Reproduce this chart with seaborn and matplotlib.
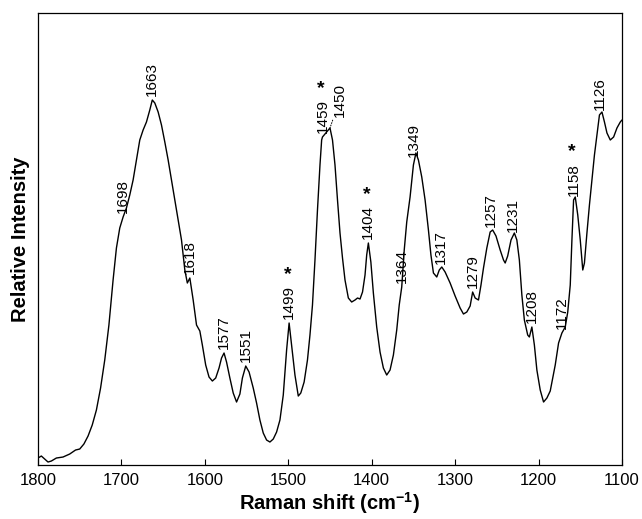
import numpy as np
import pandas as pd
import matplotlib
matplotlib.use("Agg")
import matplotlib.pyplot as plt
import seaborn as sns

# spectrum (wavenumber in cm-1, relative intensity in arbitrary units)
shift = [1800, 1796, 1792, 1788, 1784, 1778, 1770, 1762, 1755, 1750, 1745, 1740, 1735, 1730,
         1725, 1720, 1715, 1710, 1706, 1702, 1698, 1694, 1690, 1686, 1682, 1678, 1674, 1670,
         1666, 1663, 1660, 1656, 1652, 1648, 1644, 1640, 1636, 1632, 1628, 1624, 1621, 1618,
         1614, 1610, 1606, 1603, 1599, 1595, 1591, 1587, 1583, 1580, 1577, 1574, 1570, 1566,
         1562, 1558, 1555, 1551, 1547, 1542, 1538, 1534, 1530, 1526, 1522, 1518, 1514, 1510,
         1506, 1502, 1499, 1496, 1492, 1488, 1485, 1481, 1477, 1474, 1471, 1468, 1465, 1462,
         1460, 1459, 1456, 1453, 1450, 1447, 1444, 1441, 1438, 1435, 1432, 1428, 1424, 1420,
         1417, 1414, 1411, 1408, 1406, 1404, 1401, 1398, 1394, 1390, 1386, 1382, 1378, 1374,
         1370, 1367, 1364, 1361, 1358, 1354, 1350, 1347, 1344, 1340, 1336, 1332, 1329, 1326,
         1322, 1319, 1316, 1312, 1306, 1300, 1294, 1290, 1286, 1282, 1279, 1276, 1272, 1269,
         1266, 1262, 1258, 1255, 1251, 1246, 1242, 1240, 1237, 1233, 1229, 1226, 1223, 1220,
         1217, 1213, 1211, 1208, 1205, 1202, 1198, 1194, 1190, 1186, 1183, 1180, 1176, 1172,
         1168, 1165, 1162, 1160, 1158, 1156, 1153, 1150, 1147, 1145, 1142, 1139, 1136, 1133,
         1130, 1127, 1124, 1121, 1118, 1114, 1110, 1106, 1102, 1100]
intensity = [7, 9, 6, 3, 4, 7, 8, 11, 15, 16, 21, 29, 40, 55,
             77, 105, 140, 185, 217, 237, 248, 257, 270, 285, 305, 325, 335, 343,
             355, 365, 362, 353, 340, 323, 305, 285, 265, 245, 225, 195, 182, 187,
             165, 140, 134, 120, 100, 88, 84, 87, 97, 107, 112, 103, 87, 72,
             63, 71, 87, 99, 93, 77, 62, 45, 32, 25, 23, 26, 33, 45,
             70, 115, 142, 120, 90, 69, 72, 83, 105, 130, 160, 205, 255, 300,
             325, 328, 331, 334, 337, 325, 300, 265, 232, 207, 185, 167, 163, 165,
             167, 166, 173, 190, 210, 222, 203, 172, 138, 113, 97, 90, 95, 110,
             135, 160, 178, 215, 243, 268, 300, 312, 305, 288, 265, 235, 210, 192,
             188, 195, 198, 193, 182, 169, 157, 151, 153, 159, 173, 167, 165, 180,
             197, 217, 233, 235, 229, 215, 205, 202, 209, 225, 232, 225, 205, 170,
             145, 130, 128, 138, 120, 95, 75, 63, 67, 74, 87, 100, 122, 132,
             138, 153, 180, 225, 265, 268, 250, 225, 195, 202, 232, 260, 285, 310,
             330, 350, 353, 343, 332, 325, 328, 337, 343, 345]

# labelled bands; starred ones carry an asterisk
peak_pos = [1698, 1663, 1618, 1577, 1551, 1499, 1459, 1450, 1404, 1364,
            1349, 1317, 1279, 1257, 1231, 1208, 1172, 1158, 1126]
peak_star = [False, False, False, False, False, True, True, False, True, False,
             False, False, False, False, False, False, False, True, False]

df = pd.DataFrame({"shift": shift, "intensity": intensity})

sns.set_style("ticks")
plt.rcParams["font.family"] = ["Liberation Sans", "DejaVu Sans"]
plt.rcParams["mathtext.fontset"] = "custom"
plt.rcParams["mathtext.rm"] = "Liberation Sans"
plt.rcParams["mathtext.bf"] = "Liberation Sans:bold"
plt.rcParams["xtick.direction"] = "in"
plt.rcParams["text.color"] = "black"
plt.rcParams["axes.labelcolor"] = "black"

fig = plt.figure(figsize=(6.42, 5.19), dpi=100)
ax = fig.add_axes([0.0592, 0.104, 0.9096, 0.871])

sns.lineplot(data=df, x="shift", y="intensity", ax=ax, color="black", linewidth=1.0)

lab_size = 11
xs = df["shift"].values[::-1]
ys = df["intensity"].values[::-1]
for pos, star in zip(peak_pos, peak_star):
    y = np.interp(pos, xs, ys)
    dx, dy = (7, 8) if pos == 1450 else (0, 3)
    if pos == 1450:
        ax.annotate(str(pos), xy=(pos, y), xytext=(dx, dy), textcoords="offset points",
                    rotation=90, ha="center", va="bottom", fontsize=lab_size,
                    arrowprops=dict(arrowstyle="-", linestyle=":", color="black",
                                    linewidth=0.7, shrinkA=0, shrinkB=0))
    else:
        ax.annotate(str(pos), xy=(pos, y), xytext=(dx, dy), textcoords="offset points",
                    rotation=90, ha="center", va="bottom", fontsize=lab_size)
    if star:
        ax.annotate("*", xy=(pos, y), xytext=(dx - 1, dy + 4 * 0.556 * lab_size + 1),
                    textcoords="offset points", ha="center", va="bottom",
                    fontsize=14, fontweight="bold")

ax.set_xlim(1800, 1100)
ax.set_ylim(0, 452)
ax.set_xticks([1800, 1700, 1600, 1500, 1400, 1300, 1200, 1100])
ax.set_yticks([])
ax.tick_params(axis="x", length=4, width=0.8, labelsize=12, pad=6, colors="black")
for sp in ax.spines.values():
    sp.set_linewidth(0.9)
    sp.set_color("black")

ax.set_xlabel("Raman shift (cm$^{\\mathbf{-1}}$)", fontsize=14.5, fontweight="bold", labelpad=1)
ax.set_ylabel("Relative Intensity", fontsize=14.5, fontweight="bold", labelpad=6)

fig.savefig("out.png", dpi=100)
